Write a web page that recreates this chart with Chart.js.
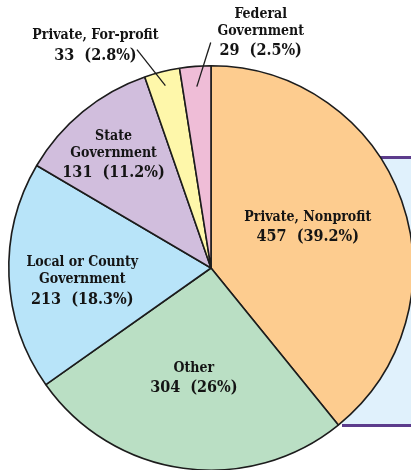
<!DOCTYPE html>
<html>
<head>
<meta charset="utf-8">
<script src="https://cdn.jsdelivr.net/npm/chart.js@4/dist/chart.umd.min.js"></script>
<style>
html,body{margin:0;padding:0;background:#fff;overflow:hidden;width:411px;height:470px;}
#wrap{position:absolute;left:0;top:0;width:420px;height:480px;}
</style>
</head>
<body>
<div id="wrap"><canvas id="c" width="420" height="480"></canvas></div>
<script>
// ---- data ----
const categories = ["Private, Nonprofit", "Other", "Local or County Government", "State Government", "Private, For-profit", "Federal Government"];
const counts = [457, 304, 213, 131, 33, 29];
const percents = ["39.2%", "26%", "18.3%", "11.2%", "2.8%", "2.5%"];
const nameLines = [["Private, Nonprofit"], ["Other"], ["Local or County", "Government"], ["State", "Government"], ["Private, For-profit"], ["Federal", "Government"]];

// ---- styles ----
const colors = ["#fdcc8f", "#badfc4", "#b8e4f9", "#d1bedd", "#fef7aa", "#efbdd7"];
// label placement: polar (angle offset in deg from slice mid, radius fraction), leader line flag
const labelLayout = [
  {da: -3.5, rf: 0.52, size: 14, lead: false},
  {da: 1.0,  rf: 0.55, size: 14, lead: false},
  {da: -3.5, rf: 0.64, size: 14, lead: false},
  {da: -1.3, rf: 0.74, size: 14, lead: false},
  {da: -13.4, rf: 1.24, size: 14, lead: true, l0: 0.93, l1a: -4.7, l1r: 1.14},
  {da: 16.4, rf: 1.19, size: 14, lead: true, l0: 0.90, l1a: 4.4, l1r: 1.115}
];
const FONT = '"DejaVu Serif Condensed", "DejaVu Serif", serif';

const bgPanel = {
  id: 'bgPanel',
  beforeDraw(chart) {
    const ctx = chart.ctx;
    ctx.save();
    ctx.fillStyle = '#e0f1fc';
    ctx.fillRect(342, 158, 100, 268);
    ctx.fillStyle = '#5c3c8c';
    ctx.fillRect(342, 156, 100, 3);
    ctx.fillRect(342, 424, 100, 3);
    ctx.restore();
  }
};

const labels = {
  id: 'sliceLabels',
  afterDatasetsDraw(chart) {
    const ctx = chart.ctx;
    const meta = chart.getDatasetMeta(0);
    ctx.save();
    ctx.fillStyle = '#141414';
    ctx.textAlign = 'center';
    ctx.textBaseline = 'middle';
    meta.data.forEach((arc, i) => {
      const L = labelLayout[i];
      const mid = (arc.startAngle + arc.endAngle) / 2;
      const R = arc.outerRadius;
      const a = mid + L.da * Math.PI / 180;
      const cx = arc.x + Math.cos(a) * R * L.rf;
      const cy = arc.y + Math.sin(a) * R * L.rf;
      const lines = nameLines[i];
      const total = (lines.length - 1) * 17 + 20;
      let y = cy - total / 2;
      ctx.font = 'bold ' + L.size + 'px ' + FONT;
      lines.forEach((t, k) => { ctx.fillText(t, cx, y + k * 17); });
      ctx.font = 'bold 16px ' + FONT;
      ctx.fillText(counts[i] + '  (' + percents[i] + ')', cx, y + (lines.length - 1) * 17 + 20);
      if (L.lead) {
        const x0 = arc.x + Math.cos(mid) * R * L.l0, y0 = arc.y + Math.sin(mid) * R * L.l0;
        const a1 = mid + L.l1a * Math.PI / 180;
        const x1 = arc.x + Math.cos(a1) * R * L.l1r, y1 = arc.y + Math.sin(a1) * R * L.l1r;
        ctx.strokeStyle = '#1c1c1c';
        ctx.lineWidth = 1.3;
        ctx.beginPath(); ctx.moveTo(x0, y0); ctx.lineTo(x1, y1); ctx.stroke();
      }
    });
    ctx.restore();
  }
};

new Chart(document.getElementById('c'), {
  type: 'pie',
  data: {
    labels: categories,
    datasets: [{
      data: counts,
      backgroundColor: colors,
      borderColor: '#1c1c1c',
      borderWidth: 1.6,
      hoverOffset: 0
    }]
  },
  options: {
    responsive: false,
    animation: false,
    events: [],
    layout: {padding: {left: 8, right: 6, top: 65, bottom: 9}},
    plugins: {legend: {display: false}, tooltip: {enabled: false}}
  },
  plugins: [bgPanel, labels]
});
</script>
</body>
</html>
